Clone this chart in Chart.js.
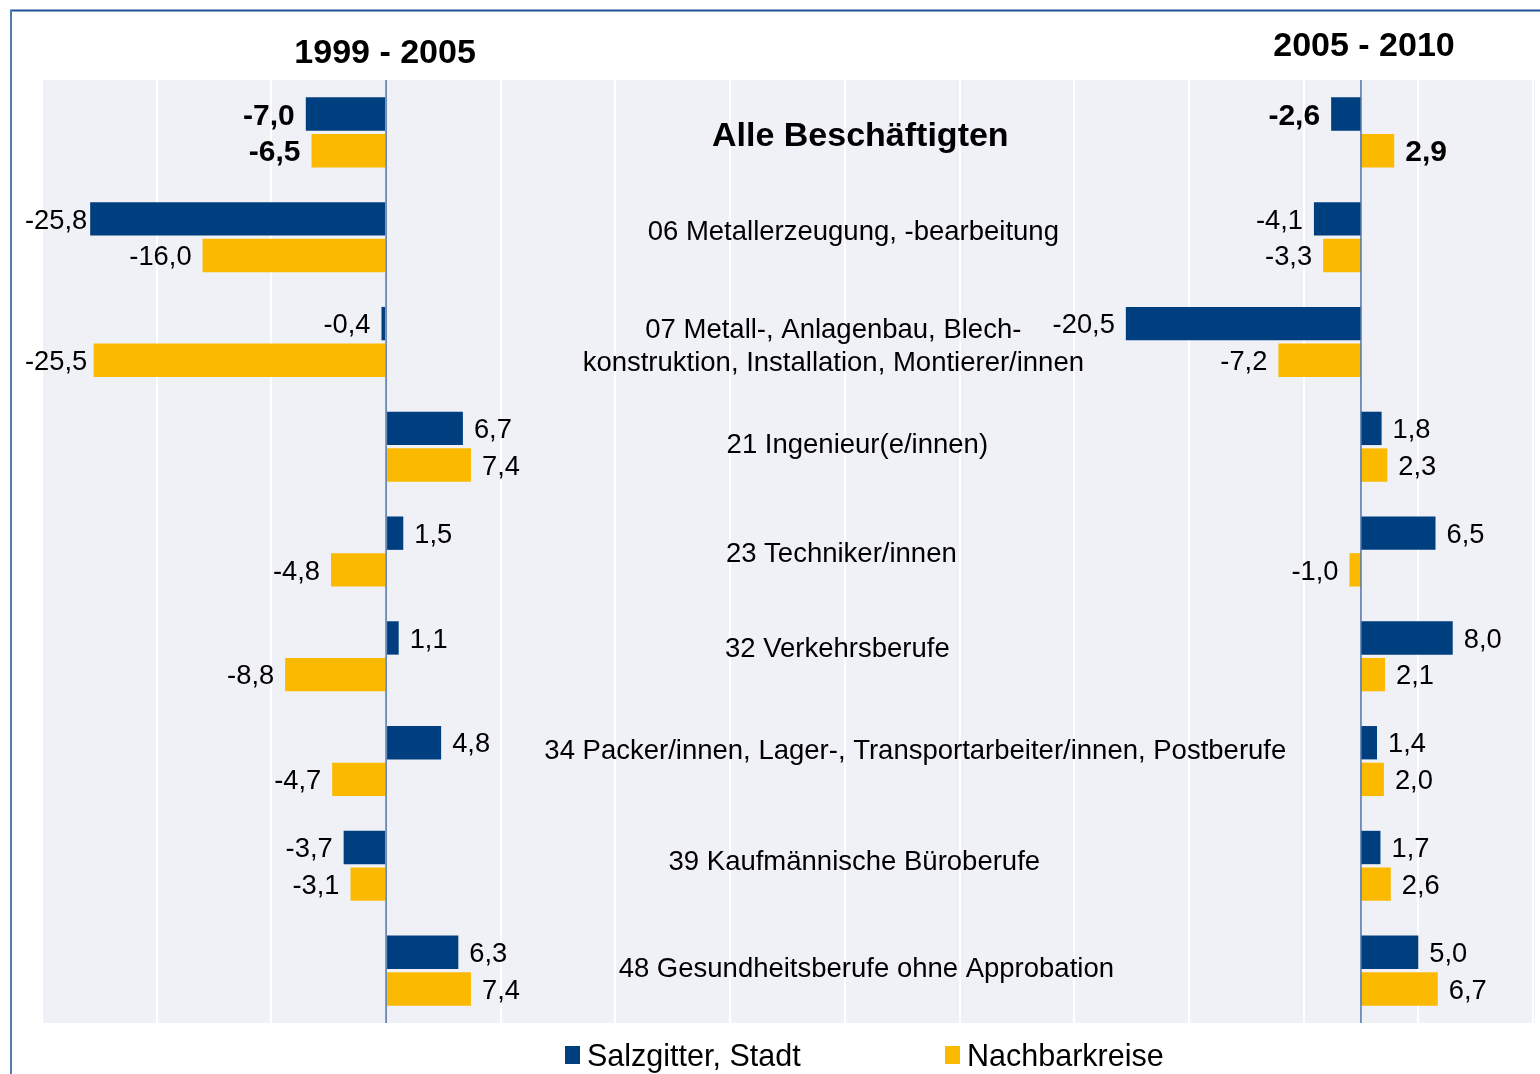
<!DOCTYPE html>
<html>
<head>
<meta charset="utf-8">
<script src="https://cdn.jsdelivr.net/npm/chart.js@4.4.0/dist/chart.umd.min.js"></script>
<style>
  html, body { margin: 0; padding: 0; background: #fff; }
  #wrap { width: 1540px; height: 1074px; position: relative; }
</style>
</head>
<body>
<div id="wrap"><canvas id="chart"></canvas></div>
<script>
// data
const categories = [
    'Alle Beschäftigten',
    '06 Metallerzeugung, -bearbeitung',
    ['07 Metall-, Anlagenbau, Blech-', 'konstruktion, Installation, Montierer/innen'],
    '21 Ingenieur(e/innen)',
    '23 Techniker/innen',
    '32 Verkehrsberufe',
    '34 Packer/innen, Lager-, Transportarbeiter/innen, Postberufe',
    '39 Kaufmännische Büroberufe',
    '48 Gesundheitsberufe ohne Approbation'
];
const periods = ['1999 - 2005', '2005 - 2010'];
const seriesNames = ['Salzgitter, Stadt', 'Nachbarkreise'];
const salzgitter9905 = [-7.0, -25.8, -0.4, 6.7, 1.5, 1.1, 4.8, -3.7, 6.3];
const nachbar9905 = [-6.5, -16.0, -25.5, 7.4, -4.8, -8.8, -4.7, -3.1, 7.4];
const salzgitter0510 = [-2.6, -4.1, -20.5, 1.8, 6.5, 8.0, 1.4, 1.7, 5.0];
const nachbar0510 = [2.9, -3.3, -7.2, 2.3, -1.0, 2.1, 2.0, 2.6, 6.7];

const BLUE = '#003f7f';
const YELLOW = '#fbba00';
const FONT = "'Liberation Sans', Arial, sans-serif";

// small per-row nudges of the category captions (px), like the hand placed labels
const captionNudge = [[4, 1], [-3, -7], [-23, 3], [1, -4], [-15, 1], [-19, -9], [59, -12], [-2, -6], [10, -3]];

const fmt = v => v.toFixed(1).replace('.', ',');

const decor = {
    id: 'decor',
    beforeDraw(chart) {
        const ctx = chart.ctx;
        const a = chart.chartArea;
        ctx.save();
        ctx.fillStyle = '#ffffff';
        ctx.fillRect(0, 0, chart.width, chart.height);
        ctx.fillStyle = '#f0f1f7';
        ctx.fillRect(a.left, a.top, a.right - a.left + 2, a.bottom - a.top);
        // frame
        ctx.strokeStyle = '#1f5196';
        ctx.lineWidth = 2;
        ctx.beginPath();
        ctx.moveTo(10, 10.5);
        ctx.lineTo(chart.width, 10.5);
        ctx.stroke();
        ctx.strokeStyle = '#4f7bb0';
        ctx.beginPath();
        ctx.moveTo(11, 10);
        ctx.lineTo(11, chart.height);
        ctx.stroke();
        ctx.restore();
    },
    afterDatasetsDraw(chart) {
        const ctx = chart.ctx;
        const a = chart.chartArea;
        const xs = chart.scales.x, x2 = chart.scales.x2, ys = chart.scales.y;
        ctx.save();

        // zero lines of both panels
        ctx.strokeStyle = '#4f74a8';
        ctx.lineWidth = 1.5;
        [xs.getPixelForValue(0), x2.getPixelForValue(0)].forEach(px => {
            ctx.beginPath();
            ctx.moveTo(px, a.top);
            ctx.lineTo(px, a.bottom);
            ctx.stroke();
        });

        // value labels
        ctx.fillStyle = '#000';
        chart.data.datasets.forEach((ds, di) => {
            const meta = chart.getDatasetMeta(di);
            meta.data.forEach((bar, i) => {
                const v = ds.data[i];
                const size = i === 0 ? 30 : 27.3;
                ctx.font = (i === 0 ? 'bold ' : '') + size + 'px ' + FONT;
                const txt = fmt(v);
                const w = ctx.measureText(txt).width;
                const y = bar.y + size * 0.358;
                if (v < 0) {
                    let right = bar.x - 11;
                    if (right - w < 25) right = 25 + w;
                    ctx.textAlign = 'right';
                    ctx.fillText(txt, right, y);
                } else {
                    ctx.textAlign = 'left';
                    ctx.fillText(txt, bar.x + 11, y);
                }
            });
        });

        // category captions in the middle
        ctx.textAlign = 'center';
        ctx.textBaseline = 'alphabetic';
        const cx = xs.getPixelForValue(41);
        categories.forEach((cat, i) => {
            const size = i === 0 ? 34 : 27.5;
            ctx.font = (i === 0 ? 'bold ' : '') + size + 'px ' + FONT;
            const lines = Array.isArray(cat) ? cat : [cat];
            const lh = 33;
            const yc = ys.getPixelForValue(i) + captionNudge[i][1];
            lines.forEach((ln, k) => {
                const y = yc + (k - (lines.length - 1) / 2) * lh + size * 0.358;
                ctx.fillText(ln, cx + captionNudge[i][0], y);
            });
        });

        // panel titles
        ctx.font = 'bold 34px ' + FONT;
        ctx.fillText(periods[0], xs.getPixelForValue(0) - 1, 63);
        ctx.fillText(periods[1], x2.getPixelForValue(0) + 3, 56);

        // legend
        ctx.textAlign = 'left';
        ctx.font = '30.5px ' + FONT;
        const legendX = [565, 945];
        seriesNames.forEach((name, k) => {
            ctx.fillStyle = k === 0 ? BLUE : YELLOW;
            ctx.fillRect(legendX[k], 1046, 15, 18);
            ctx.fillStyle = '#000';
            ctx.fillText(name, legendX[k] + 22, 1066);
        });
        ctx.restore();
    }
};

const barStyle = { borderWidth: 0, categoryPercentage: 0.70, barPercentage: 0.91 };

new Chart(document.getElementById('chart').getContext('2d'), {
    type: 'bar',
    data: {
        labels: categories,
        datasets: [
            Object.assign({ label: seriesNames[0], data: salzgitter9905, xAxisID: 'x', stack: 's', backgroundColor: BLUE }, barStyle),
            Object.assign({ label: seriesNames[1], data: nachbar9905, xAxisID: 'x', stack: 'n', backgroundColor: YELLOW }, barStyle),
            Object.assign({ label: seriesNames[0], data: salzgitter0510, xAxisID: 'x2', stack: 's', backgroundColor: BLUE }, barStyle),
            Object.assign({ label: seriesNames[1], data: nachbar0510, xAxisID: 'x2', stack: 'n', backgroundColor: YELLOW }, barStyle)
        ]
    },
    options: {
        indexAxis: 'y',
        responsive: true,
        maintainAspectRatio: false,
        animation: false,
        layout: { padding: { left: 42, top: 80, right: 7, bottom: 51 } },
        plugins: {
            legend: { display: false },
            tooltip: { enabled: false }
        },
        scales: {
            y: { type: 'category', display: false },
            x: {
                type: 'linear',
                min: -30,
                max: 100,
                stacked: false,
                ticks: { display: false, stepSize: 10 },
                border: { display: false },
                grid: {
                    drawTicks: false,
                    lineWidth: 2,
                    color: c => c.tick.value === 0 ? 'rgba(0,0,0,0)' : '#ffffff'
                }
            },
            x2: {
                type: 'linear',
                position: 'bottom',
                min: -115,
                max: 15,
                stacked: false,
                display: false
            }
        }
    },
    plugins: [decor]
});
</script>
</body>
</html>
